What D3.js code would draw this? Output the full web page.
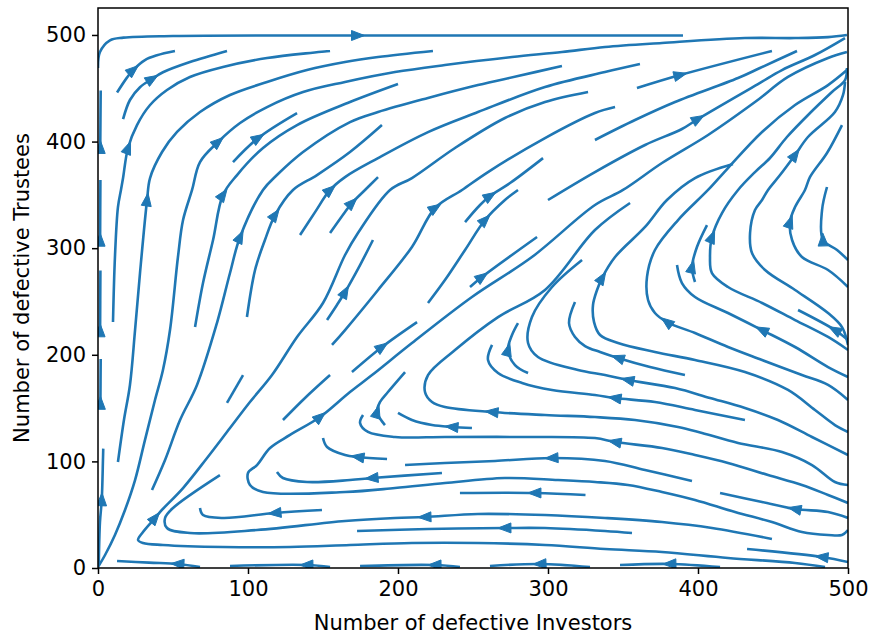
<!DOCTYPE html>
<html><head><meta charset="utf-8">
<script src="https://cdnjs.cloudflare.com/ajax/libs/d3/7.8.5/d3.min.js"></script>
<style>body{margin:0;background:#fff}</style></head>
<body><svg id="c" width="871" height="637"></svg>
<script>
const xTicks=[0,100,200,300,400,500];
const yTicks=[0,100,200,300,400,500];
const xLabel="Number of defective Investors";
const yLabel="Number of defective Trustees";
// streamlines in data units, ordered along the flow
const streamlines=[
[[0,469],[1.3,484],[8,495],[17,497.5],[50,499],[173,499.5],[390,499.5]],
[[12.7,446],[19.3,460],[23.3,467],[31.3,476.5],[39.3,481],[51.3,485]],
[[16.7,421],[21.3,439],[28,451],[36,458.7],[43.3,465],[61.3,474.6],[86,485]],
[[10,230.7],[11.3,291.7],[13.3,338.6],[15.3,354.6],[16.7,365.8],[20,394],[26,415.5],[34.7,434.3],[46,448.4],[61.3,460.6],[83.3,470],[112.7,478.4],[154.7,485]],
[[13.3,99.4],[17.3,138.8],[21.3,171.7],[24.7,223.2],[28,276.7],[32.7,345.2],[34.7,365.8],[42.7,390.2],[52.7,409],[68,427.7],[88,443.7],[112.7,455.9],[139.3,467.1],[164.7,474.6],[186.7,479.3],[223.3,485]],
[[0,0.9],[4.7,12.2],[11.3,31],[18,54.4],[24.7,82.5],[31.3,120],[38,157.6],[43.3,185.7],[48,223.2],[53.3,291.7],[56.7,326.4],[62.7,354.6],[68,380.8],[80,399.6],[94.7,417.4],[112.7,432.4],[136.7,446.5],[164.7,455.9],[198,465.2],[231.3,471.8],[276,479.3],[309.3,484],[338,488.7],[376,492.5],[431.3,497.1],[464.7,497.1],[486.7,498],[499.3,500]],
[[90,380.8],[106.7,403.3],[132.7,426.8]],
[[64.7,226],[70,267.3],[76.7,307.7],[83.3,350],[92.7,368.6],[110,394],[132.7,415.5],[168,437.1],[200,454]],
[[36,73.2],[44.7,101.3],[54.7,138.8],[66,171.7],[79.3,229.8],[88,276.7],[94.7,310.5],[110,354.6],[119.3,368.6],[136.7,390.2],[168,418.3],[186.7,427.7],[220,440.9],[253.3,453],[280,461.5],[309.3,470.9]],
[[99.3,235.4],[104.7,279.5],[111.3,307.7],[118,331.1],[130,354.6],[146,368.6],[168,390.2],[189.3,415.5]],
[[134.7,312.4],[144.7,333.8],[154.7,354.6],[164.7,366.7],[186.7,384.5],[220,408.9],[253.3,427.7],[298,451.2],[338,465.2],[361.3,472.7]],
[[154.7,314.2],[164.7,333.9],[169.3,342.4],[178,354.6],[186.7,366.7]],
[[484.7,0.9],[464.7,4.7],[420,9.4],[376,15],[338,17.8],[298,21.6],[253.3,23.5],[209.3,23.5],[168,21.6],[128,19.7],[83.3,19.7],[43.3,21.6],[30,23.5],[26.7,26.3],[30,33.8],[38,46.9],[41.3,52.5],[56.7,75],[72.7,103.2],[88,131.3],[101.3,155.7],[116,181],[132.7,216.7],[150,248.6],[164.7,293.6],[173.3,314.2],[194.7,354.6],[209.3,365.8],[238,394],[271.3,422.1],[298,437.1],[326.7,446.5]],
[[500,35.6],[496,31],[486.7,31],[469.3,33.8],[449.3,43.1],[424.7,52.5],[398,63.8],[376,71.3],[353.3,77.9],[331.3,80.7],[306.7,82.5],[271.3,84.4],[231.3,79.7],[198,75],[164.7,71.3],[110,71.3],[101.3,77.9],[100,89.1],[106,96.6],[114.7,112.6],[128,124.8],[148,141.6],[168,165.1],[182.7,181],[209.3,211],[249.3,254.2],[289.3,291.7],[331.3,340.5],[350,354.6],[376,379.9],[406.7,406.2],[438,437.1],[460,460.6],[486.7,478.4],[499.3,484]],
[[449.3,27.2],[409.3,37.5],[376,43.1],[338,46.9],[298,49.7],[253.3,50.7],[218,47.8],[198,46.9],[164.7,44.1],[106,35.6],[61.3,32.8],[46,37.5],[44.7,46.9],[50,56.3],[81.3,87.2]],
[[356,32.8],[338,34.7],[298,37.5],[271.3,37.5],[220,36.6],[172.7,34.7]],
[[149.3,54.4],[118,51.6],[83.3,46.9],[70,49.7],[68,56.3]],
[[325,68.5],[291.3,70.4],[241.3,70.4]],
[[229.3,89.1],[182.7,84.4],[168,82.5],[139.3,80.7],[123.3,84.4],[119.3,90]],
[[396,81.6],[364.7,91.9],[338,100.4],[302.7,103.2],[264.7,100.4],[231.3,98.5],[204.7,96.6]],
[[192.7,102.3],[173.3,104.1],[164.7,106],[152.7,113.5],[150,121.9]],
[[500,61],[486.7,68.5],[469.3,77.9],[446.7,87.2],[420,98.5],[398,106],[376,112.6],[344.7,118.2],[331.3,121.9],[280,122.9],[231.3,122.9],[198,122.9],[180,127.6],[174.7,136],[176.7,143.5]],
[[249.3,131.3],[236,132.3],[222.7,134.1],[209.3,138.8],[200,145.4]],
[[500,77.9],[491.3,80.7],[476,96.6],[456,108.8],[426.7,117.3],[402.7,126.6],[386.7,132.3],[358,138.8],[331.3,141.6],[298,143.5],[262.7,146.3],[231.3,151],[222.7,155.7],[218,165.1],[220,181],[238,204.5],[266.7,235.4],[298,260.8],[331.3,317],[354.7,342.4]],
[[431.3,138.8],[398,148.2],[371.3,155.7],[344.7,159.4],[331.3,162.3],[302.7,167],[282.7,173.6],[266.7,183],[260,195.2],[262.7,209.3]],
[[500,106],[476,122.9],[453.3,138.8],[431.3,150.1],[408,159.5],[384.7,168.8],[353.3,176.3],[338,181],[320,185.7],[293.3,197.9],[286.7,211],[289.3,235.4],[302.7,263.6],[322.7,288.9]],
[[391.3,181],[368,188.5],[346.7,197],[334.7,202.6],[324.7,208.2],[318,216.7],[314,229.8],[318,249.5]],
[[286.7,182.9],[278,190.4],[273.3,204.5],[276,218.6],[280,229.8]],
[[359.3,450.2],[388,462.4],[449.3,485]],
[[331.3,401.5],[358,420.2],[384.7,437.1],[426.7,459.6],[441.3,469],[466,485]],
[[300,345.2],[331.3,371.4],[364.7,396.8],[389.3,411.8],[400,421.2],[440,454],[456,467.1],[478,481.2],[498,497.1]],
[[500,127.6],[491.3,134.1],[478,148.2],[460,167],[431.3,183.8],[398,195.1],[371.3,202.6],[346.7,211],[334.7,218.6],[330.7,230.7],[330,246.7],[332.7,260.8],[336,272],[344.7,291.7],[364.7,319.9],[379.3,345.2],[398,365.8],[423.3,379]],
[[500,157.6],[486.7,171.7],[469.3,181],[442.7,195.1],[420,207.3],[398,220.4],[379.3,230.7],[371.3,239.2],[366.7,251.4],[366,273],[371.3,298.3],[386.7,326.4],[406.7,354.6],[420,375.2],[442.7,409],[464.7,434.3],[486.7,453],[499.3,467.1]],
[[500,179.2],[486.7,188.5],[464.7,207.3],[442.7,223.2],[420,239.2],[398,254.2],[389.3,267.3],[386,284.2]],
[[398,268.3],[396,282.3],[399.3,301.1],[406,321.7]],
[[500,204.5],[486.7,216.7],[464.7,232.6],[442.7,248.6],[420,263.6],[409.3,276.7],[408,291.7],[409.3,310.5],[416,333],[426.7,354.6],[438,371.4],[448,384.6],[459.3,404.3],[474.7,426.8],[489.3,446.5],[498,457.7],[499.3,469]],
[[500,209.2],[496,226],[486.7,239.2],[464.7,260.8],[444.7,279.5],[436,295.5],[434.7,314.2],[438,335.8],[442.7,345.2],[446.7,354.6],[454.7,368.6],[464.7,387.4],[473.3,404.3],[491.3,427.7],[496.7,443.7],[498,455.9]],
[[500,263.6],[486.7,279.5],[469.3,291.7],[462.7,307.7],[461.3,324.5],[464.7,338.6],[471.3,354.6],[474.7,366.8],[486,389.3],[496,415.5]],
[[500,288.9],[492.7,298.3],[483.3,307.7],[482.7,335.8],[486,357.4]],
[[500,213.9],[491.3,223.2],[466.7,242]],
[[500,46.9],[486.7,52.5],[464.7,55.3],[442.7,61.9],[414.7,70.4]],
[[500,5.6],[482.7,10.3],[432.7,17.8]],
[[68,0.9],[53.3,3.8],[34,5],[12.7,6.6]],
[[154.7,0.9],[139.3,2.8],[88,1.9]],
[[241.3,0.9],[224.7,2.8],[174.7,1.9]],
[[328,0.9],[294.7,3.8],[261.3,1.9]],
[[414.7,0.9],[381.3,3.8],[348,2.8]],
[[1.5,392],[1.5,394.5],[1.8,448]],
[[1.4,305],[1.4,307.5],[1.6,364]],
[[1.4,220],[1.4,222.5],[1.6,279]],
[[1.6,152],[1.6,154.5],[1.8,196]],
[[0.5,3],[1.3,43],[2.5,64],[3.3,101],[3.5,112]],
[[86,154.8],[96.7,181]],
[[123.3,138.8],[138,159.5],[154.7,181]],
[[152.7,232.6],[159.3,246.7],[164.7,258.9],[174.7,284.2],[183.3,307.7]],
[[156,209.2],[164.7,223.2],[186.7,260.8],[209.3,301.2],[224.7,337.7],[242.7,354.6],[260,371.4],[298,403.3],[331.3,426.8],[344.7,432.4]],
[[244.7,324.5],[254.7,340.5],[261.3,348.9],[274.7,361.1],[296.7,384.5]],
[[248,263.6],[256,273],[292.7,310.5]],
[[169.3,183.8],[189.3,207.3],[212.7,230.7]],
[[191.3,134.1],[186,146.3],[188,155.7],[193.3,165.1],[204.7,183.8]],
[[220,248.6],[231.3,270.1],[244.7,298.3],[258,326.4],[271.3,345.2],[280,354.6]]
];
// index of the point at which each line carries its arrow (-1: none)
const arrowAt=[5,2,3,5,5,13,1,3,6,3,2,2,15,21,6,3,1,1,1,3,1,7,1,10,3,6,2,2,1,-1,4,12,6,3,1,7,11,4,2,1,2,1,1,1,1,1,1,1,1,1,1,2,-1,-1,2,4,2,1,1,1,3];

const svg=d3.select("#c");
const L=98,R=848,T=8,B=568;
const x=d3.scaleLinear().domain([0,500]).range([L,R]);
const y=d3.scaleLinear().domain([0,525.3]).range([B,T]);
const color="#1f77b4";
const font="DejaVu Sans";

svg.append("defs").append("clipPath").attr("id","clip").append("rect")
  .attr("x",L).attr("y",T).attr("width",R-L).attr("height",B-T);

const g=svg.append("g").attr("clip-path","url(#clip)");
const line=d3.line().x(d=>x(d[0])).y(d=>y(d[1])).curve(d3.curveCatmullRom.alpha(0.5));

streamlines.forEach((pts,i)=>{
  g.append("path").attr("d",line(pts)).attr("fill","none")
   .attr("stroke",color).attr("stroke-width",2.6).attr("stroke-linejoin","round");
  const k=arrowAt[i];
  if(k>=0 && k<pts.length-1){
    const px=x(pts[k][0]),py=y(pts[k][1]);
    const qx=x(pts[k+1][0]),qy=y(pts[k+1][1]);
    let dx=qx-px,dy=qy-py; const n=Math.hypot(dx,dy)||1; dx/=n;dy/=n;
    const tipL=7,backL=6,hw=5;
    const tip=[px+dx*tipL,py+dy*tipL];
    const b=[px-dx*backL,py-dy*backL];
    const p1=[b[0]-dy*hw,b[1]+dx*hw], p2=[b[0]+dy*hw,b[1]-dx*hw];
    g.append("path").attr("d",`M${tip[0]},${tip[1]}L${p1[0]},${p1[1]}L${p2[0]},${p2[1]}Z`)
     .attr("fill",color).attr("stroke",color).attr("stroke-width",1);
  }
});

svg.append("rect").attr("x",L).attr("y",T).attr("width",R-L).attr("height",B-T)
  .attr("fill","none").attr("stroke","#000").attr("stroke-width",1.5);

const xAxis=d3.axisBottom(x).tickValues(xTicks).tickSize(6).tickPadding(7).tickFormat(d3.format("d"));
const yAxis=d3.axisLeft(y).tickValues(yTicks).tickSize(6).tickPadding(6).tickFormat(d3.format("d"));
const gx=svg.append("g").attr("transform",`translate(0,${B})`).call(xAxis);
const gy=svg.append("g").attr("transform",`translate(${L},0)`).call(yAxis);
[gx,gy].forEach(a=>{
  a.select(".domain").remove();
  a.selectAll(".tick line").attr("stroke","#000").attr("stroke-width",1.5);
  a.selectAll(".tick text").attr("fill","#000").style("font-family",font).style("font-size","21px");
});
svg.append("text").attr("x",(L+R)/2).attr("y",630).attr("text-anchor","middle")
  .style("font-family",font).style("font-size","21px").text(xLabel);
svg.append("text").attr("transform",`translate(29,${(T+B)/2}) rotate(-90)`).attr("text-anchor","middle")
  .style("font-family",font).style("font-size","21px").text(yLabel);
</script></body></html>
